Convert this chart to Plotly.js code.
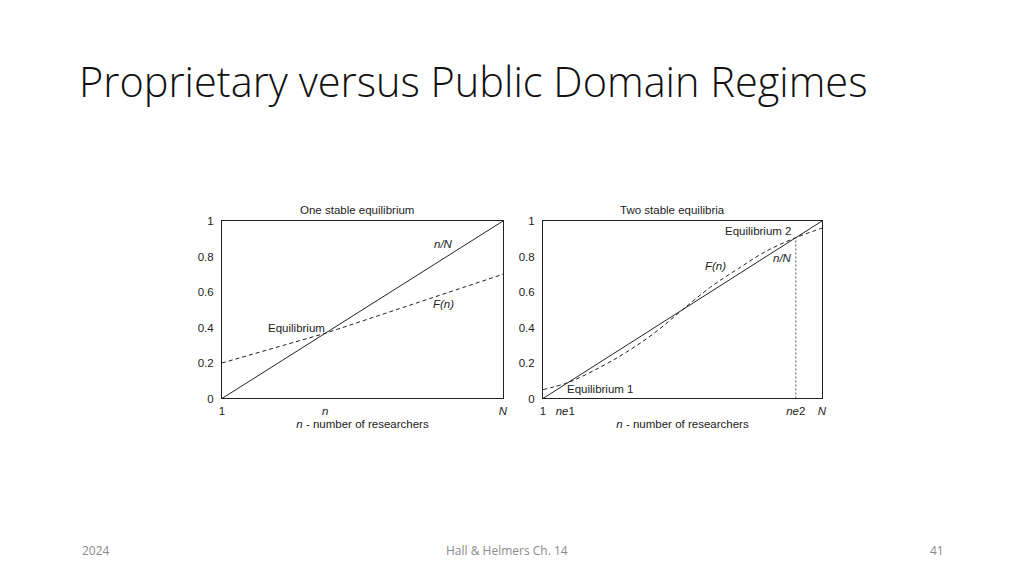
<!DOCTYPE html>
<html>
<head>
<meta charset="utf-8">
<script src="https://cdn.plot.ly/plotly-3.0.1.min.js"></script>
<style>
  html, body { margin: 0; padding: 0; background: #fff; }
  #chart { width: 1024px; height: 576px; }
</style>
</head>
<body>
<div id="chart"></div>
<script>
// share of researchers n/N, x runs from 1 (0) to N (1)
const diagX = [0, 1];
const diagY = [0, 1];

// left panel: one stable equilibrium
const leftX = [0, 0.367, 1];
const leftF = [0.2, 0.367, 0.7];
const leftTickVals = [0, 0.367, 1];
const leftTickText = ["1", "<i>n</i>", "<i>N</i>"];

// right panel: two stable equilibria
const rightX = [0, 0.09, 0.2, 0.3, 0.4, 0.5, 0.6, 0.7, 0.8, 0.906, 1];
const rightF = [0.05, 0.09, 0.172, 0.262, 0.37, 0.5, 0.627, 0.732, 0.83, 0.906, 0.96];
const ne2 = 0.906;
const rightTickVals = [0, 0.08, 0.906, 1];
const rightTickText = ["1", "<i>ne</i>1", "<i>ne</i>2", "<i>N</i>"];

const yTicks = [0, 0.2, 0.4, 0.6, 0.8, 1];

const ink = "#222";
const chartFont = { family: "Liberation Sans, Arial, sans-serif", size: 11.5, color: ink };
const footFont = { family: "Open Sans, sans-serif", size: 12, color: "#8a8a8a" };

const data = [
  { x: diagX, y: diagY, xaxis: "x", yaxis: "y", mode: "lines",
    line: { color: ink, width: 1 }, hoverinfo: "skip" },
  { x: leftX, y: leftF, xaxis: "x", yaxis: "y", mode: "lines",
    line: { color: ink, width: 1, dash: "4px,3px" }, hoverinfo: "skip" },
  { x: diagX, y: diagY, xaxis: "x2", yaxis: "y2", mode: "lines",
    line: { color: ink, width: 1 }, hoverinfo: "skip" },
  { x: rightX, y: rightF, xaxis: "x2", yaxis: "y2", mode: "lines",
    line: { color: ink, width: 1, dash: "4px,3px", shape: "spline" }, hoverinfo: "skip" },
  { x: [ne2, ne2], y: [0, ne2], xaxis: "x2", yaxis: "y2", mode: "lines",
    line: { color: "#555", width: 1, dash: "2px,2px" }, hoverinfo: "skip" }
];

function xAxis(domain, vals, text, anchor) {
  return {
    domain: domain, range: [0, 1], anchor: anchor,
    showgrid: false, zeroline: false,
    showline: true, mirror: true, linecolor: ink, linewidth: 1,
    tickmode: "array", tickvals: vals, ticktext: text, ticks: "",
    tickfont: chartFont, ticklabelstandoff: 2,
    title: { text: "<i>n</i> - number of researchers", font: chartFont, standoff: 3 }
  };
}
function yAxis(anchor) {
  return {
    domain: [0.3082, 0.6163], range: [0, 1], anchor: anchor,
    showgrid: false, zeroline: false,
    showline: true, mirror: true, linecolor: ink, linewidth: 1,
    tickmode: "array", tickvals: yTicks, ticks: "",
    tickfont: chartFont, ticklabelstandoff: 5
  };
}

function note(text, x, y, xref, yref, extra) {
  return Object.assign({ text: text, x: x, y: y, xref: xref, yref: yref,
    xanchor: "center", yanchor: "middle",
    showarrow: false, font: chartFont }, extra || {});
}

const annotations = [
  // slide title and footer
  note("Proprietary versus Public Domain Regimes", 77 / 1024, 1 - 81 / 576, "paper", "paper",
    { xanchor: "left",
      font: { family: "Open Sans, sans-serif", size: 41.5, color: "#111", weight: 300 } }),
  note("2024", 80 / 1024, 1 - 550 / 576, "paper", "paper", { xanchor: "left", font: footFont }),
  note("Hall &amp; Helmers Ch. 14", 507 / 1024, 1 - 550 / 576, "paper", "paper", { font: footFont }),
  note("41", 946 / 1024, 1 - 550 / 576, "paper", "paper", { xanchor: "right", font: footFont }),

  // panel titles
  note("One stable equilibrium", 357 / 1024, 1 - 210 / 576, "paper", "paper"),
  note("Two stable equilibria", 672 / 1024, 1 - 210 / 576, "paper", "paper"),

  // left panel labels
  note("<i>n/N</i>", 0.79, 0.87, "x", "y"),
  note("<i>F(n)</i>", 0.787, 0.53, "x", "y"),
  note("Equilibrium", 0.266, 0.395, "x", "y"),

  // right panel labels
  note("Equilibrium 2", 0.771, 0.945, "x2", "y2"),
  note("<i>n/N</i>", 0.86, 0.79, "x2", "y2"),
  note("<i>F(n)</i>", 0.62, 0.746, "x2", "y2"),
  note("Equilibrium 1", 0.205, 0.056, "x2", "y2")
];

const layout = {
  width: 1024, height: 576,
  margin: { l: 0, r: 0, t: 0, b: 0 },
  paper_bgcolor: "#fff", plot_bgcolor: "#fff",
  showlegend: false,
  font: chartFont,
  xaxis: xAxis([222 / 1024, 503 / 1024], leftTickVals, leftTickText, "y"),
  yaxis: yAxis("x"),
  xaxis2: xAxis([543 / 1024, 822 / 1024], rightTickVals, rightTickText, "y2"),
  yaxis2: yAxis("x2"),
  annotations: annotations
};

Plotly.newPlot("chart", data, layout, { displayModeBar: false, staticPlot: true });
</script>
</body>
</html>
